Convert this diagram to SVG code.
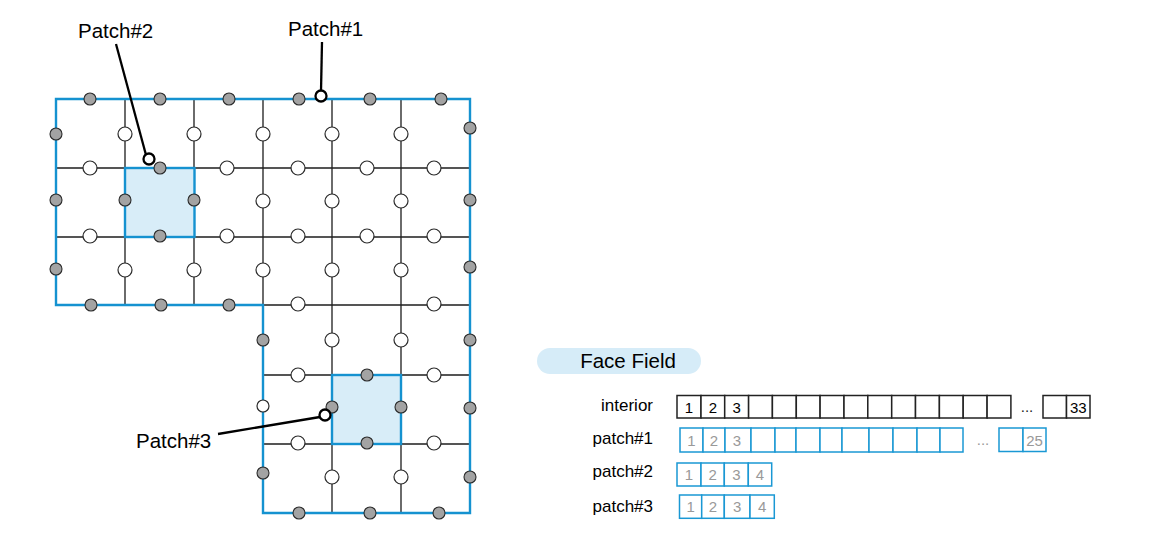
<svg xmlns="http://www.w3.org/2000/svg" width="1154" height="537" viewBox="0 0 1154 537">
<style>
.grid{stroke:#1e1e1e;stroke-width:1.3;fill:none}
.bnd{stroke:#1592d0;stroke-width:2.4;fill:none;stroke-linejoin:miter}
.pfill{fill:#d8edf8;stroke:#1592d0;stroke-width:2.4}
.g{fill:#a3a3a3;stroke:#2a2a2a;stroke-width:1.1}
.w{fill:#fff;stroke:#2a2a2a;stroke-width:1.2}
.ptr{stroke:#000;stroke-width:2.3;fill:none}
.pc{fill:#fff;stroke:#000;stroke-width:2.3}
.lbl{font-family:"Liberation Sans",Arial,sans-serif;font-size:20.5px;fill:#000}
.row{font-family:"Liberation Sans",Arial,sans-serif;font-size:17px;fill:#000;text-anchor:end}
.num{font-family:"Liberation Sans",Arial,sans-serif;font-size:15px;text-anchor:middle}
.ib{fill:#fff;stroke:#222;stroke-width:1.5}
.pb{fill:#fff;stroke:#1a98d4;stroke-width:1.5}
</style>

<g id="mesh">
  <path class="grid" d="M56,168H470M56,237H470M263,305H470M263,375H470M263,444H470M125,99V305M194,99V305M263,99V305M332,99V513M401,99V513"/>
</g>
<g id="patch2-cell"><rect class="pfill" x="125" y="168" width="69.5" height="69"/></g>
<g id="patch3-cell"><rect class="pfill" x="332" y="375" width="69" height="69"/></g>
<g id="boundary">
  <path class="bnd" d="M56,99H470V513H263V305H56Z"/>
</g>

<g id="boundary-faces">
  <circle class="g" cx="90" cy="99" r="6"/><circle class="g" cx="160" cy="99" r="6"/><circle class="g" cx="229" cy="99" r="6"/><circle class="g" cx="299" cy="99" r="6"/><circle class="g" cx="370" cy="99" r="6"/><circle class="g" cx="441" cy="99" r="6"/>
  <circle class="g" cx="56" cy="134" r="6"/><circle class="g" cx="56" cy="200" r="6"/><circle class="g" cx="56" cy="269" r="6"/>
  <circle class="g" cx="91" cy="305" r="6"/><circle class="g" cx="161" cy="305" r="6"/><circle class="g" cx="229" cy="305" r="6"/>
  <circle class="g" cx="470" cy="128" r="6"/><circle class="g" cx="470" cy="200" r="6"/><circle class="g" cx="470" cy="267" r="6"/><circle class="g" cx="470" cy="340" r="6"/><circle class="g" cx="470" cy="408" r="6"/><circle class="g" cx="470" cy="477" r="6"/>
  <circle class="g" cx="263" cy="340" r="6"/><circle class="g" cx="263" cy="473" r="6"/>
  <circle class="g" cx="299" cy="513" r="6"/><circle class="g" cx="370" cy="513" r="6"/><circle class="g" cx="439" cy="513" r="6"/>
  <circle class="g" cx="160" cy="168" r="6"/><circle class="g" cx="125" cy="200" r="6"/><circle class="g" cx="194" cy="200" r="6"/><circle class="g" cx="160" cy="236" r="6"/>
  <circle class="g" cx="367" cy="375" r="6"/><circle class="g" cx="332" cy="407" r="6"/><circle class="g" cx="401" cy="407" r="6"/><circle class="g" cx="367" cy="443" r="6"/>
</g>
<g id="interior-faces">
  <circle class="w" cx="125" cy="134" r="7"/><circle class="w" cx="194" cy="134" r="7"/><circle class="w" cx="263" cy="134" r="7"/><circle class="w" cx="332" cy="134" r="7"/><circle class="w" cx="401" cy="134" r="7"/>
  <circle class="w" cx="263" cy="201" r="7"/><circle class="w" cx="332" cy="201" r="7"/><circle class="w" cx="401" cy="201" r="7"/>
  <circle class="w" cx="125" cy="270" r="7"/><circle class="w" cx="194" cy="270" r="7"/><circle class="w" cx="263" cy="270" r="7"/><circle class="w" cx="332" cy="270" r="7"/><circle class="w" cx="401" cy="270" r="7"/>
  <circle class="w" cx="332" cy="340" r="7"/><circle class="w" cx="401" cy="340" r="7"/>
  <circle class="w" cx="332" cy="477" r="7"/><circle class="w" cx="401" cy="477" r="7"/>
  <circle class="w" cx="90" cy="168" r="7"/><circle class="w" cx="227" cy="168" r="7"/><circle class="w" cx="298" cy="168" r="7"/><circle class="w" cx="367" cy="168" r="7"/><circle class="w" cx="434" cy="168" r="7"/>
  <circle class="w" cx="90" cy="236" r="7"/><circle class="w" cx="227" cy="236" r="7"/><circle class="w" cx="298" cy="236" r="7"/><circle class="w" cx="367" cy="236" r="7"/><circle class="w" cx="434" cy="236" r="7"/>
  <circle class="w" cx="298" cy="304" r="7"/><circle class="w" cx="434" cy="304" r="7"/>
  <circle class="w" cx="298" cy="375" r="7"/><circle class="w" cx="434" cy="375" r="7"/>
  <circle class="w" cx="298" cy="443" r="7"/><circle class="w" cx="434" cy="443" r="7"/>
  <circle class="w" cx="263" cy="406" r="6"/>
</g>

<g id="connectors">
  <path class="ptr" d="M116,44L146,155"/>
  <path class="ptr" d="M322,42L321,91"/>
  <path class="ptr" d="M218,434L320,417"/>
  <circle class="pc" cx="149" cy="159" r="5.5"/>
  <circle class="pc" cx="321" cy="96" r="5.5"/>
  <circle class="pc" cx="325" cy="415" r="5.5"/>
</g>

<g id="label-patch2"><text class="lbl" x="78" y="38">Patch#2</text></g>
<g id="label-patch1"><text class="lbl" x="288" y="36">Patch#1</text></g>
<g id="label-patch3"><text class="lbl" x="136" y="448">Patch#3</text></g>

<g id="face-field-title">
  <rect x="537" y="348" width="164" height="26" rx="13" fill="#d6ecf8"/>
  <text class="lbl" x="628" y="368" text-anchor="middle">Face Field</text>
</g>

<g id="interior-array">
  <text class="row" x="653" y="411">interior</text>
  <rect class="ib" x="677" y="395.5" width="24" height="22.5"/>
  <rect class="ib" x="701" y="395.5" width="23.7" height="22.5"/>
  <rect class="ib" x="724.7" y="395.5" width="23.9" height="22.5"/>
  <rect class="ib" x="748.6" y="395.5" width="23.8" height="22.5"/>
  <rect class="ib" x="772.4" y="395.5" width="23.9" height="22.5"/>
  <rect class="ib" x="796.3" y="395.5" width="23.8" height="22.5"/>
  <rect class="ib" x="820.1" y="395.5" width="23.9" height="22.5"/>
  <rect class="ib" x="844" y="395.5" width="23.8" height="22.5"/>
  <rect class="ib" x="867.8" y="395.5" width="23.9" height="22.5"/>
  <rect class="ib" x="891.7" y="395.5" width="23.8" height="22.5"/>
  <rect class="ib" x="915.5" y="395.5" width="23.9" height="22.5"/>
  <rect class="ib" x="939.4" y="395.5" width="23.8" height="22.5"/>
  <rect class="ib" x="963.2" y="395.5" width="23.9" height="22.5"/>
  <rect class="ib" x="987.1" y="395.5" width="23.8" height="22.5"/>
  <text class="num" x="1027" y="412" fill="#222">...</text>
  <rect class="ib" x="1043" y="395.5" width="23.5" height="22.5"/>
  <rect class="ib" x="1066.5" y="395.5" width="23.5" height="22.5"/>
  <text class="num" x="689" y="412.5" fill="#000">1</text>
  <text class="num" x="713" y="412.5" fill="#000">2</text>
  <text class="num" x="736.7" y="412.5" fill="#000">3</text>
  <text class="num" x="1078.3" y="412.5" fill="#000">33</text>
</g>

<g id="patch1-array">
  <text class="row" x="653" y="444">patch#1</text>
  <rect class="pb" x="680" y="428" width="23" height="24"/>
  <rect class="pb" x="703" y="428" width="22" height="24"/>
  <rect class="pb" x="725" y="428" width="26" height="24"/>
  <rect class="pb" x="751" y="428" width="24" height="24"/>
  <rect class="pb" x="775" y="428" width="21" height="24"/>
  <rect class="pb" x="796" y="428" width="24" height="24"/>
  <rect class="pb" x="820" y="428" width="22" height="24"/>
  <rect class="pb" x="842" y="428" width="27" height="24"/>
  <rect class="pb" x="869" y="428" width="24" height="24"/>
  <rect class="pb" x="893" y="428" width="24" height="24"/>
  <rect class="pb" x="917" y="428" width="23" height="24"/>
  <rect class="pb" x="940" y="428" width="23" height="24"/>
  <text class="num" x="983" y="445" fill="#999">...</text>
  <rect class="pb" x="999" y="428" width="24" height="23.5"/>
  <rect class="pb" x="1023" y="428" width="23" height="23.5"/>
  <text class="num" x="691.5" y="445.5" fill="#999">1</text>
  <text class="num" x="714" y="445.5" fill="#999">2</text>
  <text class="num" x="737" y="445.5" fill="#999">3</text>
  <text class="num" x="1034.5" y="445.5" fill="#999">25</text>
</g>

<g id="patch2-array">
  <text class="row" x="653" y="477">patch#2</text>
  <rect class="pb" x="677" y="463" width="24" height="23"/>
  <rect class="pb" x="701" y="463" width="23.3" height="23"/>
  <rect class="pb" x="724.3" y="463" width="24" height="23"/>
  <rect class="pb" x="748.3" y="463" width="23.4" height="23"/>
  <text class="num" x="689" y="480" fill="#999">1</text>
  <text class="num" x="712.6" y="480" fill="#999">2</text>
  <text class="num" x="736.3" y="480" fill="#999">3</text>
  <text class="num" x="760" y="480" fill="#999">4</text>
</g>

<g id="patch3-array">
  <text class="row" x="653" y="512">patch#3</text>
  <rect class="pb" x="679.5" y="495" width="22.2" height="23.3"/>
  <rect class="pb" x="701.7" y="495" width="22.6" height="23.3"/>
  <rect class="pb" x="724.3" y="495" width="25.7" height="23.3"/>
  <rect class="pb" x="750" y="495" width="24.3" height="23.3"/>
  <text class="num" x="690.6" y="512" fill="#999">1</text>
  <text class="num" x="713" y="512" fill="#999">2</text>
  <text class="num" x="737.2" y="512" fill="#999">3</text>
  <text class="num" x="762.2" y="512" fill="#999">4</text>
</g>
</svg>
